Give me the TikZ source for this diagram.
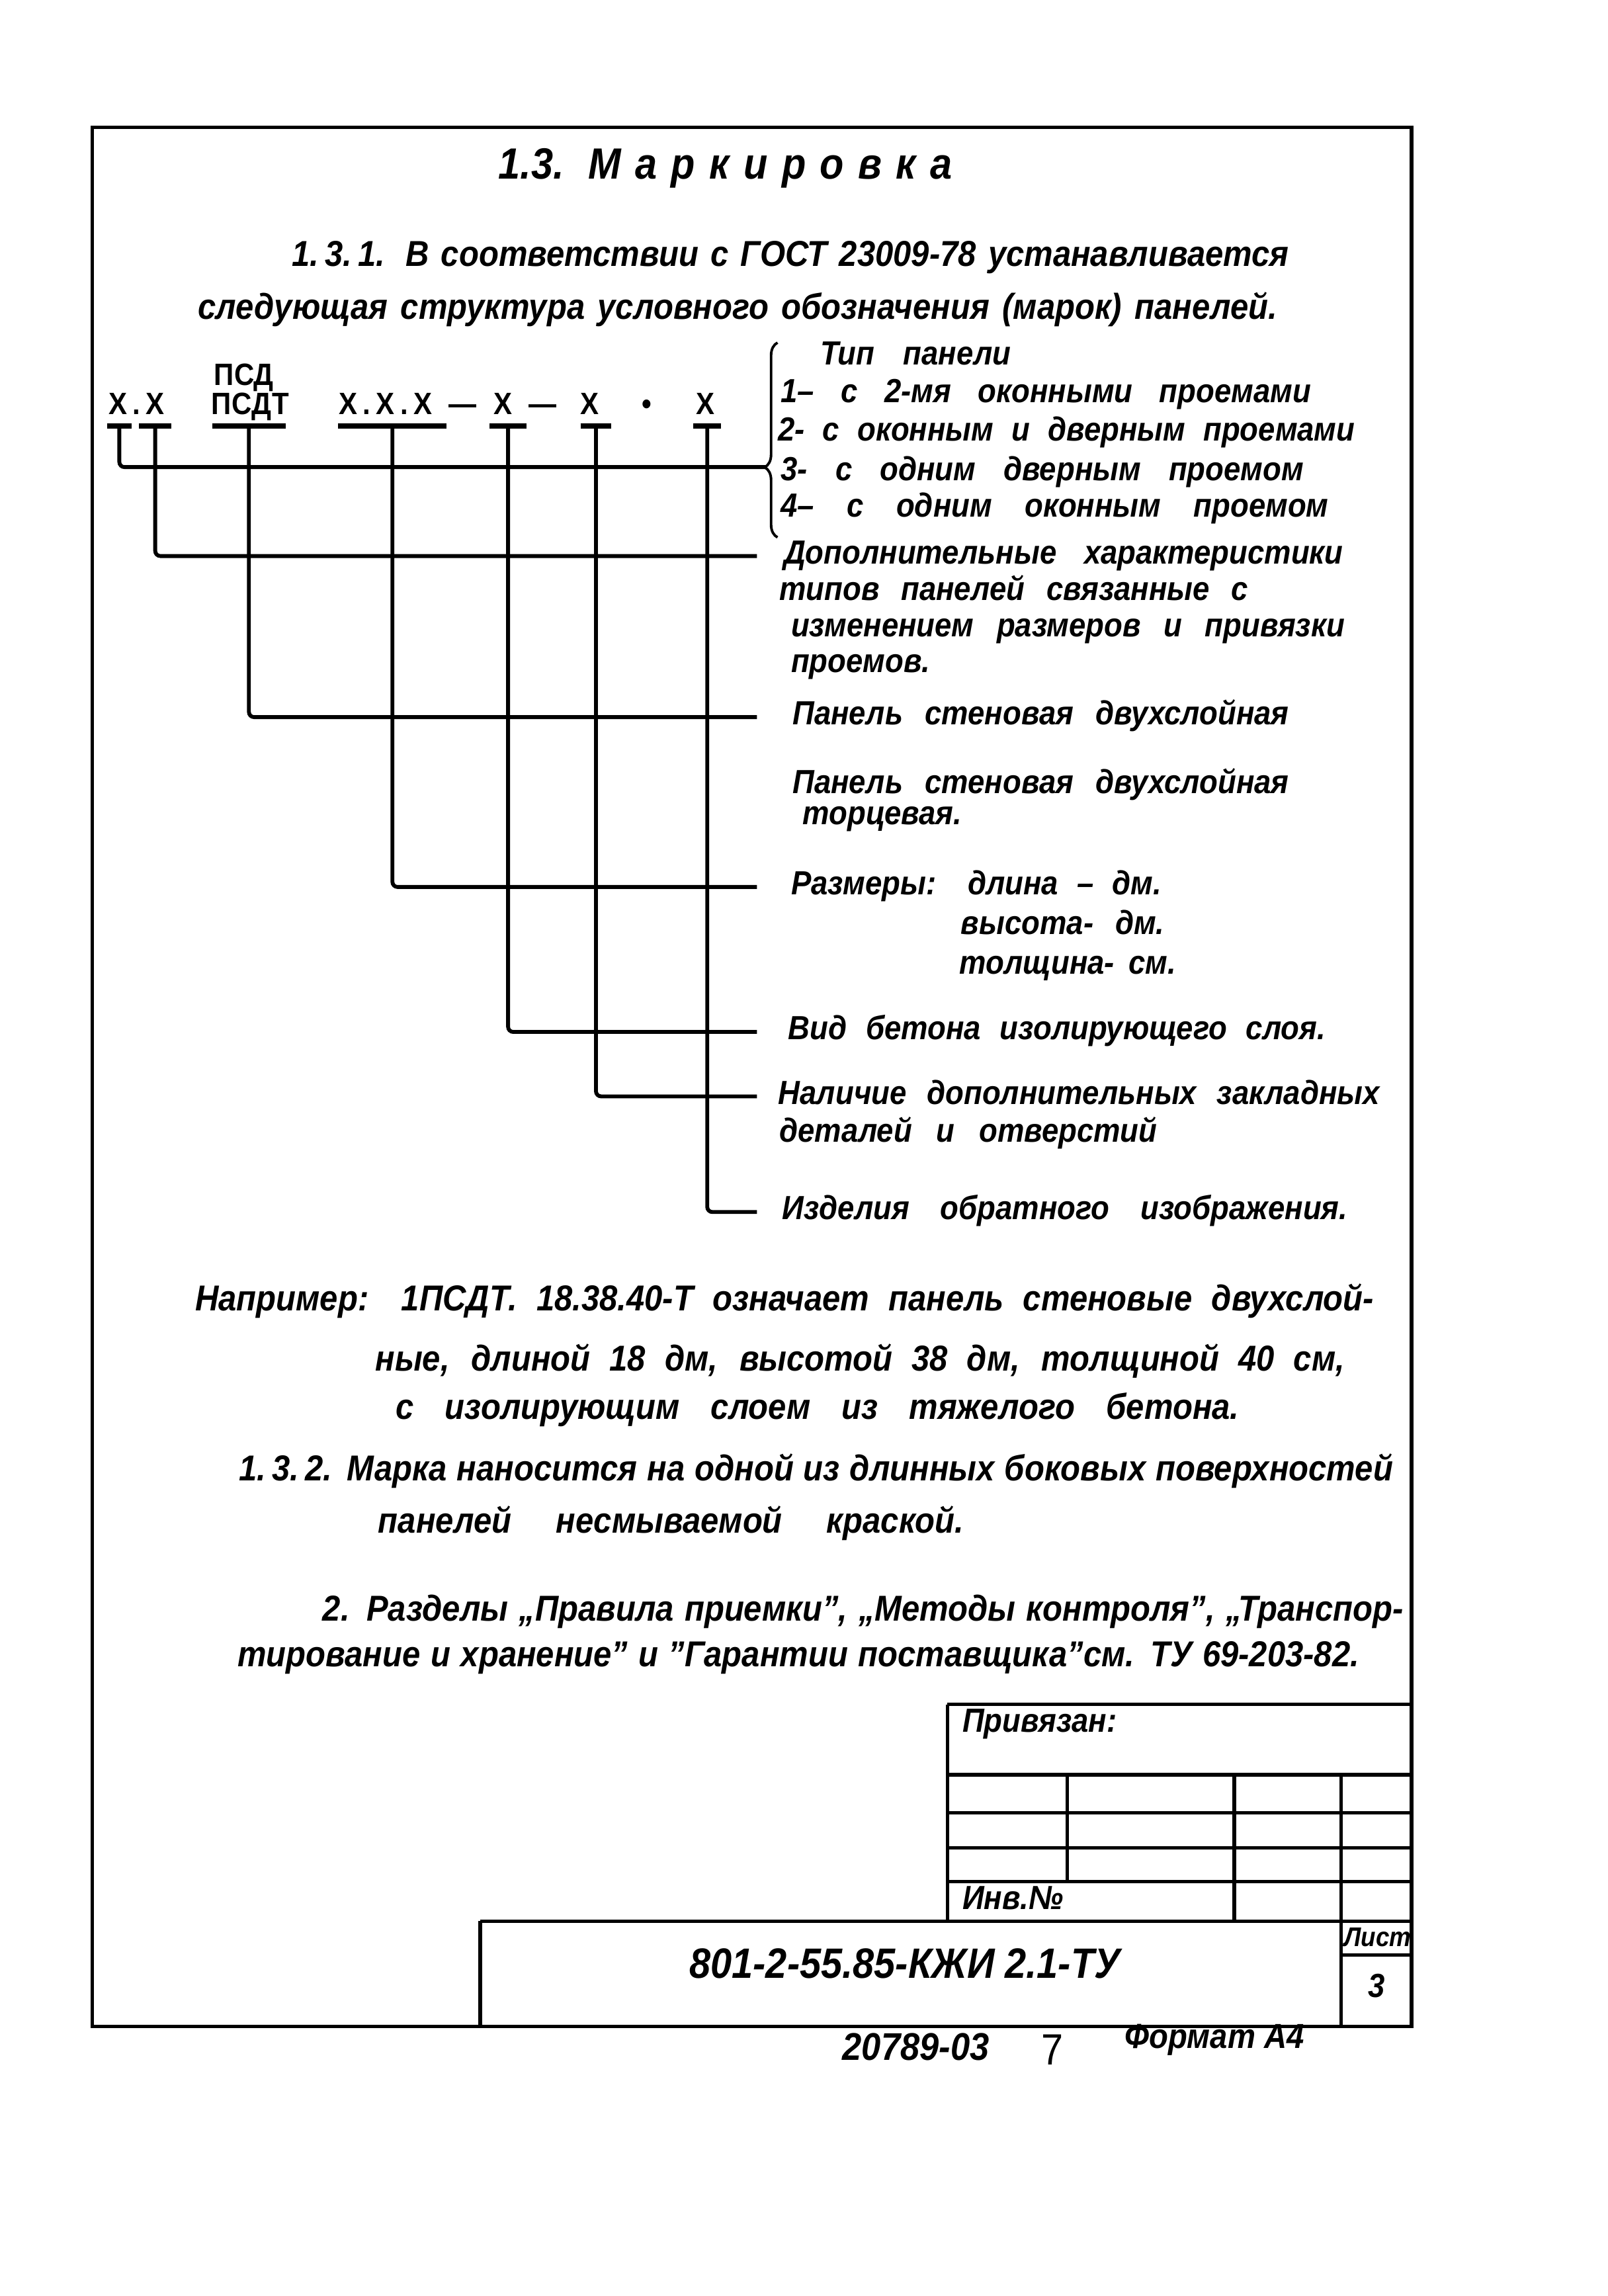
\documentclass[tikz,border=0pt]{standalone}
\usepackage{fontspec}
\setmainfont{Liberation Sans}[FakeStretch=0.9]
\usetikzlibrary{positioning,decorations.pathreplacing}
\newcommand{\gost}[1]{\fontsize{#1}{#1}\selectfont\bfseries\itshape}
\newlength{\upx}
\setlength{\upx}{0.02cm}
% one handwritten line, spread to its width in the sheet
\newcommand{\fit}[2]{\makebox[#1\upx][s]{#2}}

\begin{document}
\begin{tikzpicture}[x=0.02cm,y=-0.02cm,
  txt/.style={anchor=base west, inner sep=0pt, font=\gost{14}},
  lbl/.style={anchor=base west, inner sep=0pt, text height=9pt, text depth=3pt, font=\gost{13}},
  ph/.style={anchor=base west, inner sep=0pt, font=\gost{12}\upshape},
  conn/.style={line width=1.5pt, rounded corners=2pt},
  tick/.style={line width=2.2pt},
  frame/.style={line width=1.4pt},
  cell/.style={inner sep=0pt, font=\gost{13}}]
  \useasboundingbox (0,0) rectangle (1098,1568);
  \fill[white] (0,0) rectangle (1098,1568);

  % sheet frame
  \draw[frame] (63,87) rectangle (964,1384);

  % heading
  \node[txt, font=\gost{17}] (head) at (340,122) {\fit{310}{1.3. М а р к и р о в к а}};
  \node[txt] (intro1) at (199,182) {\fit{681}{1.\,3.\,1. В соответствии с ГОСТ 23009-78 устанавливается}};
  \node[txt] (intro2) at (135,218) {\fit{737}{следующая структура условного обозначения (марок) панелей.}};

  % the mark itself
  \node[ph] (xx) at (74,283) {\makebox[38\upx]{Х\hfill.\hfill Х}};
  \node[ph] (psd) at (146,263) {ПСД};
  \node[ph] (psdt) at (144,283) {\makebox[53\upx]{П\hfill С\hfill Д\hfill Т}};
  \node[ph] (xxx) at (231,283) {\makebox[64\upx]{Х\hfill.\hfill Х\hfill.\hfill Х}};
  \node[ph] (da) at (306,283) {—};
  \node[ph] (xa) at (337,283) {Х};
  \node[ph] (db) at (361,283) {—};
  \node[ph] (xb) at (396,283) {Х};
  \node[ph] (dot) at (438,283) {•};
  \node[ph] (xc) at (475,283) {Х};
  \foreach \n/\x/\w in {1/81.5/8.5, 2/106/11, 3/170/25, 4/268/37, 5/347/12.5, 6/407/10.5, 7/483/9.5} {
    \coordinate (t\n) at (\x,291);
    \draw[tick] (\x-\w,291) -- (\x+\w,291);
  }

  % panel types
  \coordinate (tip) at (523,319);
  \draw[line width=1pt, decorate, decoration={brace, amplitude=5pt, aspect=0.36}]
    (531,367) -- (531,234);
  \node[lbl] (typ) at (560,249) {\fit{130}{Тип панели}};
  \node[lbl] (typ1) at (533,275) {\fit{362}{1– с 2-мя оконными проемами}};
  \node[lbl] (typ2) at (531,301) {\fit{394}{2- с оконным и дверным проемами}};
  \node[lbl] (typ3) at (533,328) {\fit{357}{3- с одним дверным проемом}};
  \node[lbl] (typ4) at (533,353) {\fit{374}{4– с одним оконным проемом}};

  % explanations
  \node[lbl] (l2) at (535,385) {\fit{382}{Дополнительные характеристики}};
  \node[lbl] (l2b) at (532,410) {\fit{320}{типов панелей связанные с}};
  \node[lbl] (l2c) at (540,435) {\fit{378}{изменением размеров и привязки}};
  \node[lbl] (l2d) at (540,459) {проемов.};
  \node[lbl] (l3) at (541,495) {\fit{339}{Панель стеновая двухслойная}};
  \node[lbl] (l3b) at (541,542) {\fit{339}{Панель стеновая двухслойная}};
  \node[lbl] (l3c) at (548,563) {торцевая.};
  \node[lbl] (l4) at (540,611) {\fit{253}{Размеры: длина – дм.}};
  \node[lbl] (l4b) at (656,638) {\fit{139}{высота- дм.}};
  \node[lbl] (l4c) at (655,665) {\fit{148}{толщина- см.}};
  \node[lbl] (l5) at (538,710) {\fit{367}{Вид бетона изолирующего слоя.}};
  \node[lbl] (l6) at (531,754) {\fit{411}{Наличие дополнительных закладных}};
  \node[lbl] (l6b) at (532,780) {\fit{258}{деталей и отверстий}};
  \node[lbl] (l7) at (534,833) {\fit{386}{Изделия обратного изображения.}};

  \coordinate (stop) at (517,0);
  \draw[conn] (t1) |- (tip);
  \foreach \n in {2,...,7}
    \draw[conn] (t\n) |- (l\n.west -| stop);

  % text under the scheme
  \node[txt] (ex1) at (133,895) {\fit{805}{Например: 1ПСДТ. 18.38.40-Т означает панель стеновые двухслой-}};
  \node[txt] (ex2) at (256,936) {\fit{662}{ные, длиной 18 дм, высотой 38 дм, толщиной 40 см,}};
  \node[txt] (ex3) at (270,969) {\fit{576}{с изолирующим слоем из тяжелого бетона.}};
  \node[txt] (p132) at (163,1011) {\fit{788}{1.\,3.\,2. Марка наносится на одной из длинных боковых поверхностей}};
  \node[txt] (p132b) at (258,1047) {\fit{400}{панелей несмываемой краской.}};
  \node[txt] (p2) at (220,1107) {\fit{738}{2. Разделы „Правила приемки”, „Методы контроля”, „Транспор-}};
  \node[txt] (p2b) at (162,1138) {\fit{766}{тирование и хранение” и ”Гарантии поставщика”см. ТУ 69-203-82.}};

  % title block
  \draw[frame] (647,1164) -- (964,1164);
  \draw[frame] (647,1164) -- (647,1312);
  \foreach \y in {1212,1238,1262,1285}
    \draw[frame] (647,\y) -- (964,\y);
  \draw[frame] (328,1312) -- (964,1312);
  \draw[frame] (328,1312) -- (328,1384);
  \draw[frame] (729,1212) -- (729,1285);
  \draw[frame] (843,1212) -- (843,1312);
  \draw[frame] (916,1212) -- (916,1384);
  \draw[frame] (916,1335) -- (964,1335);
  \node[cell, anchor=base west] (bind) at (657,1183) {Привязан:};
  \node[cell, anchor=base west] (inv) at (657,1304) {Инв.№};
  \node[cell, font=\gost{16.5}] (code) at (618,1341) {801-2-55.85-КЖИ 2.1-ТУ};
  \node[cell, font=\gost{10.5}] (sheet) at (941,1323) {Лист};
  \node[cell] (num) at (940,1356) {3};

  % below the frame
  \node[cell, anchor=base west, font=\gost{15}] (order) at (575,1407) {20789-03};
  \node[cell, anchor=base west, font=\fontsize{17}{17}\selectfont] (copy) at (711,1410) {7};
  \node[cell, anchor=base west, font=\gost{13.5}] (fmt) at (768,1399) {Формат А4};
\end{tikzpicture}
\end{document}
